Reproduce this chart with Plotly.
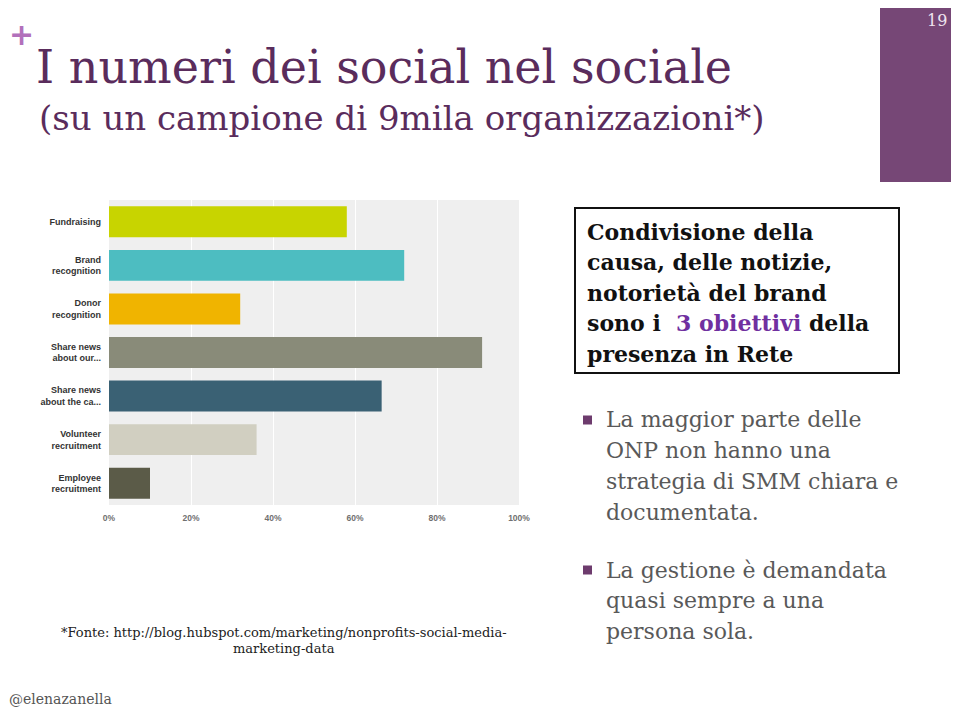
import plotly.graph_objects as go

# page body has an 8px margin: size the figure so it fits the 959x718 window exactly
W, H = 959, 718
OFF = 8
FW, FH = W - 2 * OFF, H - 2 * OFF

categories = ["Fundraising", "Brand<br>recognition", "Donor<br>recognition",
              "Share news<br>about our...", "Share news<br>about the ca...",
              "Volunteer<br>recruitment", "Employee<br>recruitment"]
values = [58, 72, 32, 91, 66.5, 36, 10]
colors = ["#c8d400", "#4dbdc1", "#f0b400", "#898b79", "#3a6174", "#d1cfc1", "#5b5b48"]
x_ticks = [0, 20, 40, 60, 80, 100]
x_tick_labels = ["0%", "20%", "40%", "60%", "80%", "100%"]


def px(x):
    return (x - OFF) / FW


def py(y):
    return 1 - (y - OFF) / FH


fig = go.Figure()
fig.add_trace(go.Bar(
    y=categories, x=values, orientation="h",
    marker=dict(color=colors, line=dict(width=0)),
    hoverinfo="x+y",
))

fig.update_layout(
    width=FW, height=FH,
    margin=dict(l=0, r=0, t=0, b=0),
    paper_bgcolor="white",
    plot_bgcolor="#efefef",
    showlegend=False,
    bargap=0.29,
    xaxis=dict(
        domain=[px(109), px(519)], range=[0, 100],
        tickvals=x_ticks, ticktext=x_tick_labels,
        showgrid=True, gridcolor="white", gridwidth=1,
        zeroline=False, showline=False, ticks="",
        ticklabelstandoff=6,
        tickfont=dict(family="Arial, Liberation Sans", size=8.5, color="#707070", weight="bold"),
        anchor="y", automargin=False,
    ),
    yaxis=dict(
        domain=[py(505), py(200)], range=[6.5, -0.5],
        categoryorder="array", categoryarray=categories,
        showgrid=False, zeroline=False, showline=False, ticks="",
        ticklabelstandoff=7, automargin=False,
        tickfont=dict(family="Arial, Liberation Sans", size=9, color="#333333", weight="bold"),
    ),
)

shapes = []
# purple slide-number block
shapes.append(dict(type="rect", xref="paper", yref="paper", layer="below",
                   x0=px(880), x1=px(959), y0=py(182), y1=py(3),
                   fillcolor="#764776", line=dict(width=0)))
# framed text box
shapes.append(dict(type="rect", xref="paper", yref="paper",
                   x0=px(575), x1=px(899), y0=py(373), y1=py(208),
                   fillcolor="rgba(0,0,0,0)", line=dict(color="#111111", width=2)))
# square bullets
for yb in [420, 570]:
    shapes.append(dict(type="rect", xref="paper", yref="paper",
                       x0=px(583), x1=px(592), y0=py(yb + 4.5), y1=py(yb - 4.5),
                       fillcolor="#6d3b6d", line=dict(width=0)))
fig.update_layout(shapes=shapes)

SERIF = "DejaVu Serif"
ann = []


def t(x, y, text, size, color, family=SERIF, xanchor="left", align="left", yanchor="middle"):
    ann.append(dict(xref="paper", yref="paper", x=px(x), y=py(y), text=text,
                    showarrow=False, xanchor=xanchor, yanchor=yanchor, align=align,
                    font=dict(family=family, size=size, color=color)))


t(7, 35, "<b>+</b>", 30, "#b270bb", family="DejaVu Sans")
t(937, 20, "19", 16, "#efe4ef", xanchor="center")
t(34, 67, "I numeri dei social nel sociale", 46, "#5a2c5c")
t(37, 118, "(su un campione di 9mila organizzazioni*)", 34, "#5a2c5c")

box_lines = ["<b>Condivisione della</b>", "<b>causa, delle notizie,</b>",
             "<b>notorietà del brand</b>",
             "<b>sono i  <span style='color:#7030a0'>3 obiettivi</span> della</b>",
             "<b>presenza in Rete</b>"]
for i, line in enumerate(box_lines):
    t(585, 232 + i * 30.4, line, 22, "#111111")

b1 = ["La maggior parte delle", "ONP non hanno una", "strategia di SMM chiara e", "documentata."]
for i, line in enumerate(b1):
    t(604, 420 + i * 30.7, line, 22, "#595959")
b2 = ["La gestione è demandata", "quasi sempre a una", "persona sola."]
for i, line in enumerate(b2):
    t(604, 570 + i * 30.5, line, 22, "#595959")

t(284, 632, "*Fonte: http://blog.hubspot.com/marketing/nonprofits-social-media-", 13, "#222222", xanchor="center")
t(284, 648, "marketing-data", 13, "#222222", xanchor="center")
t(7, 699, "@elenazanella", 14, "#555555")

fig.update_layout(annotations=ann)
fig.write_html("out.html")
